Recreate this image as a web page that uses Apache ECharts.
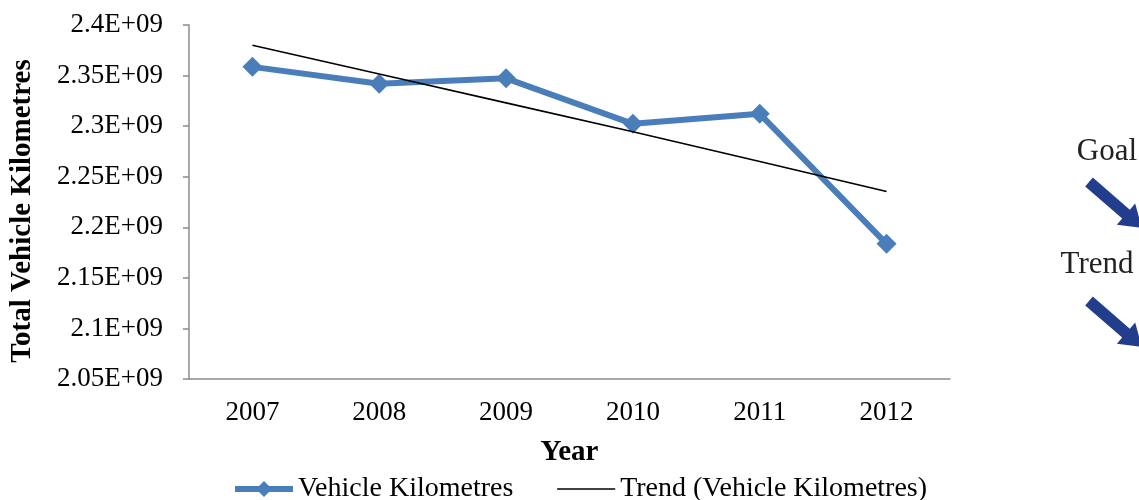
<!DOCTYPE html>
<html>
<head>
<meta charset="utf-8">
<script src="https://cdn.jsdelivr.net/npm/echarts@6/dist/echarts.min.js"></script>
<style>
  html, body { margin: 0; padding: 0; background: #fff; }
  #main { width: 1139px; height: 500px; }
</style>
</head>
<body>
<div id="main"></div>
<script>
// values
const years = ['2007', '2008', '2009', '2010', '2011', '2012']
const vehicleKm = [2358600000, 2342000000, 2347300000, 2302300000, 2312200000, 2183600000]
const trendKm = [2380000000, 2351500000, 2323000000, 2294400000, 2265000000, 2235300000]
const yMin = 2050000000
const yMax = 2400000000
const yStep = 50000000

const serif = 'Liberation Serif'
const blue = '#4a7ebb'
const arrowColor = '#233d8d'

// thick block arrow pointing down-right
function arrow (x, y) {
  return {
    type: 'polygon',
    x: x,
    y: y,
    rotation: -0.715,
    shape: {
      points: [[0, -5.8], [49, -5.8], [49, -14], [70, 0], [49, 14], [49, 5.8], [0, 5.8]]
    },
    style: { fill: arrowColor }
  }
}

let myChart = echarts.init(document.getElementById('main'))
myChart.setOption({
  animation: false,
  grid: { left: 189, right: 189, top: 25, bottom: 121 },
  xAxis: {
    type: 'category',
    data: years,
    boundaryGap: true,
    name: 'Year',
    nameLocation: 'middle',
    nameGap: 59,
    nameTextStyle: { fontFamily: serif, fontSize: 29, fontWeight: 'bold', color: '#000' },
    axisLine: { lineStyle: { color: '#8c8c8c', width: 1.5 } },
    axisTick: { length: 6, lineStyle: { color: '#8c8c8c', width: 1.5 } },
    axisLabel: { fontFamily: serif, fontSize: 27, color: '#000', margin: 20 },
    splitLine: { show: false }
  },
  yAxis: {
    type: 'value',
    min: yMin,
    max: yMax,
    interval: yStep,
    name: 'Total Vehicle Kilometres',
    nameLocation: 'middle',
    nameGap: 152,
    nameTextStyle: { fontFamily: serif, fontSize: 29, fontWeight: 'bold', color: '#000', padding: [0, 18, 0, 0] },
    axisLine: { show: true, lineStyle: { color: '#8c8c8c', width: 1.5 } },
    axisTick: { show: true, length: 6, lineStyle: { color: '#8c8c8c', width: 1.5 } },
    axisLabel: {
      fontFamily: serif,
      fontSize: 27,
      color: '#000',
      margin: 26,
      formatter: function (v) {
        return parseFloat((v / 1e9).toFixed(2)) + 'E+09'
      }
    },
    splitLine: { show: false }
  },
  legend: {
    top: 475,
    left: 232,
    padding: 0,
    itemWidth: 58,
    itemHeight: 20,
    itemGap: 43,
    textStyle: { fontFamily: serif, fontSize: 28, color: '#000' },
    data: [
      { name: 'Vehicle Kilometres', lineStyle: { width: 6 } },
      { name: 'Trend (Vehicle Kilometres)', lineStyle: { width: 1.6 }, itemStyle: { opacity: 0 } }
    ]
  },
  series: [{
    name: 'Vehicle Kilometres',
    type: 'line',
    data: vehicleKm,
    symbol: 'diamond',
    symbolSize: 20,
    lineStyle: { color: blue, width: 6 },
    itemStyle: { color: blue },
    z: 2
  }, {
    name: 'Trend (Vehicle Kilometres)',
    type: 'line',
    data: trendKm,
    symbol: 'none',
    lineStyle: { color: '#000', width: 1.6 },
    itemStyle: { color: '#000' },
    z: 3
  }],
  graphic: [
    {
      type: 'text',
      x: 1107,
      y: 152,
      style: { text: 'Goal', font: '31px "Liberation Serif"', fill: '#222', align: 'center', verticalAlign: 'middle' }
    },
    arrow(1089, 182),
    {
      type: 'text',
      x: 1097,
      y: 265,
      style: { text: 'Trend', font: '31px "Liberation Serif"', fill: '#222', align: 'center', verticalAlign: 'middle' }
    },
    arrow(1089, 301)
  ]
})
</script>
</body>
</html>
